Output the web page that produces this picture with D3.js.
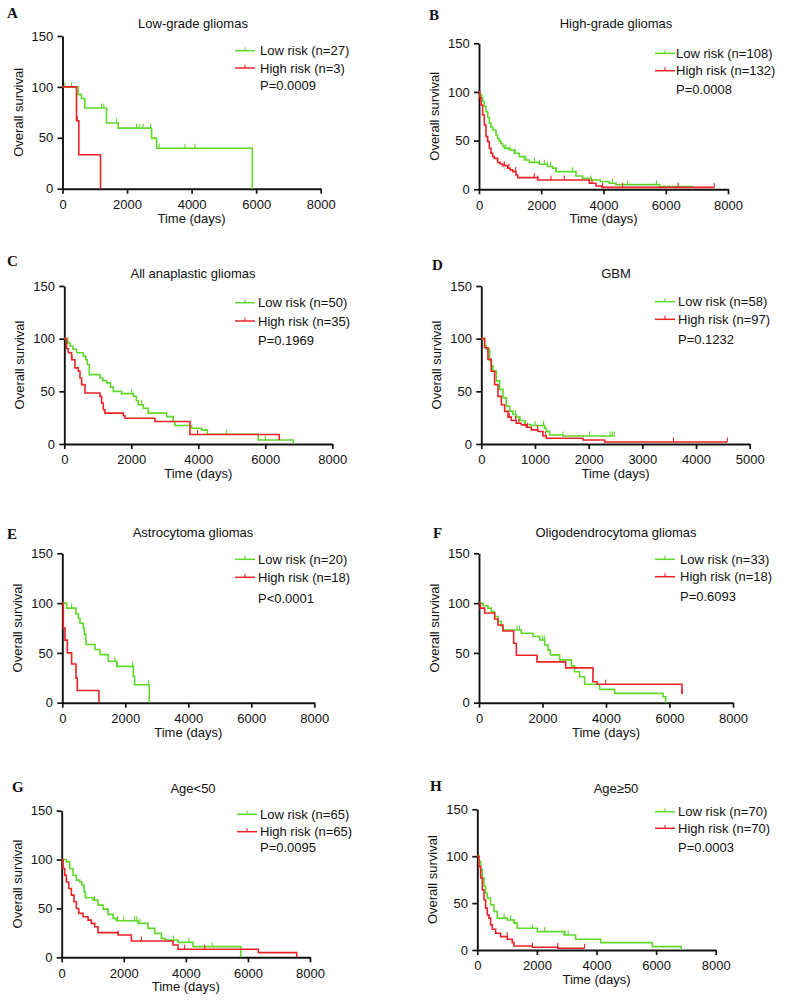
<!DOCTYPE html>
<html><head><meta charset="utf-8">
<script src="https://cdn.jsdelivr.net/npm/d3@7"></script>
<style>
body{margin:0;background:#fff}
text{font-family:"Liberation Sans",Arial,sans-serif;fill:#111}
</style>
</head><body>
<svg id="chart" width="786" height="1003"></svg>
<script>
// ---------- DATA ----------
const letters = ["A","B","C","D","E","F","G","H"];
const titles = ["Low-grade gliomas","High-grade gliomas","All anaplastic gliomas","GBM",
                "Astrocytoma gliomas","Oligodendrocytoma gliomas","Age<50","Age\u226550"];
const nLow  = [27,108,50,58,20,33,65,70];
const nHigh = [3,132,35,97,18,18,65,70];
const pTexts = ["P=0.0009","P=0.0008","P=0.1969","P=0.1232","P<0.0001","P=0.6093","P=0.0095","P=0.0003"];
const xMaxes = [8000,8000,8000,5000,8000,8000,8000,8000];
const xTicks8000 = [0,2000,4000,6000,8000];
const xTicks5000 = [0,1000,2000,3000,4000,5000];
const yTicks = [0,50,100,150];
const yLabel = "Overall survival";
const xLabel = "Time (days)";

// step curves: [time (days), survival (%) from that time on]
const lowA  = [[0,100],[486,92.4],[589,88.5],[692,79.3],[1364,64.5],[1726,59.5],[2760,49.7],[2915,39.8],[5881,0]];
const highA = [[0,100],[434,66.7],[506,33.3],[1178,0]];
const lowB  = [[0,100],[40,97],[80,94],[118,90],[170,85],[225,80],[280,74],[332,68],[385,64],[439,61],[546,55.8],[600,52],[650,49.5],[707,47],[760,44.5],[814,42],[974,40.4],[1135,37],[1296,33.6],[1456,30.1],[1617,27.7],[1938,25.7],[2200,23.5],[2366,21.6],[2473,18.2],[3116,13.7],[3330,11.3],[3597,9.6],[3900,8],[4186,6.2],[4400,4.8],[5800,2.8],[6880,2.8]];
const highB = [[0,100],[30,94],[64,86.6],[118,76.4],[171,66.1],[225,54.1],[278,49],[332,42.1],[385,37],[439,33.6],[492,31.8],[600,27.7],[680,26],[760,24.3],[921,21.6],[1000,20],[1081,18.2],[1188,14.7],[1242,12],[1885,9.6],[3544,6.2],[3758,3.4],[3950,2],[7560,2]];
const lowC  = [[0,100],[100,96],[169,93],[260,90],[368,86.6],[567,83.4],[640,80],[687,75.5],[746,65.9],[1065,62.7],[1150,60],[1264,58],[1380,54],[1463,50],[1711,47.8],[2060,45.2],[2150,41],[2209,37.3],[2358,34],[2507,29.3],[3055,26],[3254,21.3],[3303,17.5],[3800,15],[4100,13.4],[4270,9.2],[5790,3.8],[6836,0]];
const highC = [[0,100],[70,90.4],[119,86.6],[219,80],[318,72.3],[418,69],[468,62.7],[517,56.4],[617,48.4],[1065,45.2],[1114,38.9],[1164,32.5],[1214,29.3],[1761,26.8],[1811,24.5],[2706,21.3],[3751,9],[6418,3.8]];
const lowD  = [[0,100],[62,93.3],[93,90.1],[155,79],[186,74.2],[217,69.4],[280,59.9],[342,51.9],[404,43.9],[466,36],[528,31.2],[590,28],[652,25.5],[714,22.3],[807,18.5],[932,17.5],[1180,15],[1211,12],[1273,8.6],[1520,7.6],[2484,7.6]];
const highD = [[0,100],[62,91.4],[124,80.3],[186,69.1],[248,56.4],[311,45.2],[373,37.3],[435,31],[497,25.5],[559,22.3],[652,19.7],[745,18.2],[839,15.9],[932,13.4],[1056,11.8],[1149,7.6],[1211,5.4],[1894,3.8],[2298,1.9],[4584,1.9]];
const lowE  = [[0,100],[138,95],[434,89],[508,84.8],[561,79.7],[667,75],[698,68.6],[751,58.4],[1037,53.4],[1196,48.3],[1460,41.6],[1725,36.5],[2254,26.4],[2296,18],[2762,0]];
const highE = [[0,100],[32,75],[85,62.8],[159,50],[296,38.9],[434,24.7],[476,12.2],[1164,0]];
const lowF  = [[0,100],[126,97.3],[283,95],[388,91.6],[493,86.6],[598,81.5],[703,76.5],[756,73],[1333,69.8],[1700,66.4],[1911,63],[2068,58],[2173,53],[2247,48],[2540,43],[2908,37],[3013,31],[3170,26],[3328,18.5],[3800,13.4],[4273,9.4],[5795,6],[5880,0]];
const highF = [[0,100],[42,95],[178,90],[493,84],[598,78],[756,72],[1092,59.7],[1176,47.6],[1827,41],[2730,35],[3590,21],[3717,18.5],[6394,8.7]];
const lowG  = [[0,100],[150,97.6],[258,90.8],[365,84],[473,79],[580,77],[655,73.8],[720,67],[763,61],[1010,58.5],[1171,53.4],[1332,49.3],[1493,43.9],[1654,39.8],[1761,37.4],[2460,34.7],[2782,29.6],[2997,24.5],[3212,19.4],[3320,17.7],[3749,15.3],[4233,10.9],[5768,0]];
const highG = [[0,100],[43,90.8],[97,84],[150,77],[226,70.4],[311,63.6],[397,56.8],[473,50],[548,44.9],[688,41.5],[849,38],[956,34.7],[1063,31.3],[1171,25.2],[1815,22.8],[2245,16.7],[3588,12.6],[3749,8.2],[6337,4.8],[7573,0]];
const lowH  = [[0,100],[56,94.6],[112,85.7],[168,76.8],[224,67.9],[280,60.7],[336,55.4],[447,48.2],[559,41],[671,34],[1007,32],[1230,28.6],[1342,23.2],[2013,19.6],[2908,16],[3300,11.4],[4139,7.9],[5872,3.6],[6846,0]];
const highH = [[0,100],[56,89],[112,76.8],[168,64.3],[224,53.6],[280,44.6],[336,37.5],[391,34],[447,26.8],[503,22.1],[615,17.9],[783,14.3],[1007,11.4],[1174,7.9],[1230,4.3],[1846,2.9],[2707,1.8],[3602,1.8]];

// censor times
const censLowA  = [72,280,1210,1280,1675,2295,2377,2500,2730,2990,3793,4103];
const censHighA = [460];
const censLowB  = [867,1000,1167,1510,1780,1940,2098,2200,2300,2473,3008,3597,4290,4775,5700];
const censHighB = [814,960,1180,1777,1885,2313,2741,3630,3972,4615,6400,7560];
const censLowC  = [2010,2308,2507,3254,4846,6000];
const censHighC = [230,3980];
const censLowD  = [640,720,820,1000,1160,1520,2020,2400,2440,2475];
const censHighD = [520,640,700,860,1050,1200,3580,4584];
const censLowE  = [296,1672,1746,2233,2740];
const censHighE = [];
const censLowF  = [1200,1280,2000,2060];
const censHighF = [3990,6394];
const censLowG  = [1055,1800,2000,2350,2420,2520,3600,4100,4850];
const censHighG = [1815,2567,3963,4608];
const censLowH  = [900,1120,1250,1850,2260,2950,3050];
const censHighH = [1000,1850,2700,3602];

const lowCurves  = [lowA,lowB,lowC,lowD,lowE,lowF,lowG,lowH];
const highCurves = [highA,highB,highC,highD,highE,highF,highG,highH];
const lowCens  = [censLowA,censLowB,censLowC,censLowD,censLowE,censLowF,censLowG,censLowH];
const highCens = [censHighA,censHighB,censHighC,censHighD,censHighE,censHighF,censHighG,censHighH];

// ---------- LAYOUT ----------
const layouts = [
 {x0:62.5,x1:320.7,y0:188.7,y1:36,   lx:7,  ly:18,  tx:193,ty:28,  legL:235,legT:260,legY:[50.7,68,85]},
 {x0:479, x1:728,  y0:189.3,y1:43.3, lx:429,ly:20,  tx:616,ty:28,  legL:655,legT:676,legY:[53.3,70.7,89.3]},
 {x0:64.3,x1:332.3,y0:444,  y1:286,  lx:7,  ly:266, tx:193,ty:278, legL:235,legT:258,legY:[302.7,321,340.7]},
 {x0:481.3,x1:749.7,y0:444, y1:286,  lx:432,ly:270, tx:616,ty:278, legL:655,legT:678,legY:[301.7,319.3,339]},
 {x0:62.3,x1:314.3,y0:702.7,y1:553.3,lx:7,  ly:539, tx:193,ty:537, legL:235,legT:258,legY:[559.3,577.3,598.7]},
 {x0:479, x1:733,  y0:702.7,y1:553.3,lx:433,ly:538, tx:616,ty:537, legL:655,legT:680,legY:[559.3,576.7,596.7]},
 {x0:61.7,x1:310,  y0:957.3,y1:810.7,lx:12, ly:792, tx:193,ty:793, legL:237,legT:260,legY:[814.3,831.7,847.3]},
 {x0:477.3,x1:715.7,y0:950, y1:809.3,lx:430,ly:791, tx:616,ty:793, legL:655,legT:678,legY:[811.7,828.3,847.3]}
];
const GREEN = "#5fd82c", RED = "#ea2328";

const svg = d3.select("#chart");
svg.append("rect").attr("width",786).attr("height",1003).attr("fill","#fff");

function survAt(curve, t){
  let s = curve[0][1];
  for (const p of curve){ if (p[0] <= t) s = p[1]; else break; }
  return s;
}

letters.forEach((L,i)=>{
  const g = layouts[i];
  const x = d3.scaleLinear().domain([0,xMaxes[i]]).range([g.x0,g.x1]);
  const y = d3.scaleLinear().domain([0,150]).range([g.y0,g.y1]);
  const root = svg.append("g");

  root.append("text").attr("x",g.lx).attr("y",g.ly).text(L)
    .style("font-family","'Liberation Serif','Times New Roman',serif")
    .style("font-weight","bold").style("font-size","15px");
  root.append("text").attr("x",g.tx).attr("y",g.ty).attr("text-anchor","middle")
    .style("font-size","13px").text(titles[i]);

  const xa = root.append("g").attr("transform",`translate(0,${g.y0})`)
    .call(d3.axisBottom(x).tickValues(xMaxes[i]===5000?xTicks5000:xTicks8000).tickFormat(d3.format("d")).tickSize(5).tickSizeOuter(0));
  const ya = root.append("g").attr("transform",`translate(${g.x0},0)`)
    .call(d3.axisLeft(y).tickValues(yTicks).tickFormat(d3.format("d")).tickSize(5).tickSizeOuter(0));
  [xa,ya].forEach(a=>{
    a.select(".domain").attr("stroke","#111").attr("stroke-width",1.9);
    a.selectAll(".tick line").attr("stroke","#111").attr("stroke-width",1.7);
    a.selectAll(".tick text").style("font-size","13px").style("font-family","'Liberation Sans',Arial,sans-serif").attr("fill","#111");
  });
  xa.selectAll(".tick text").attr("dy","0.95em");
  ya.selectAll(".tick text").attr("dx","-0.1em");

  root.append("text").attr("x",(g.x0+g.x1)/2).attr("y",g.y0+34).attr("text-anchor","middle")
    .style("font-size","13px").text(xLabel);
  root.append("text").attr("transform",`translate(${g.x0-40},${(g.y0+g.y1)/2}) rotate(-90)`)
    .attr("text-anchor","middle").style("font-size","13px").text(yLabel);

  const line = d3.line().x(d=>x(d[0])).y(d=>y(d[1])).curve(d3.curveStepAfter);
  [[lowCurves[i],lowCens[i],GREEN],[highCurves[i],highCens[i],RED]].forEach(([c,cens,col])=>{
    root.append("path").datum(c).attr("d",line).attr("fill","none")
      .attr("stroke",col).attr("stroke-width",1.6);
    root.selectAll(null).data(cens).enter().append("line")
      .attr("x1",t=>x(t)).attr("x2",t=>x(t))
      .attr("y1",t=>y(survAt(c,t))).attr("y2",t=>y(survAt(c,t))-4.5)
      .attr("stroke",col).attr("stroke-width",1.1);
  });

  // legend
  const items = [[`Low risk (n=${nLow[i]})`,GREEN],[`High risk (n=${nHigh[i]})`,RED]];
  items.forEach(([lab,col],k)=>{
    const cy = g.legY[k];
    root.append("line").attr("x1",g.legL).attr("x2",g.legL+20).attr("y1",cy).attr("y2",cy)
      .attr("stroke",col).attr("stroke-width",1.5);
    root.append("line").attr("x1",g.legL+10).attr("x2",g.legL+10).attr("y1",cy).attr("y2",cy-3.5)
      .attr("stroke",col).attr("stroke-width",1.1);
    root.append("text").attr("x",g.legT).attr("y",cy).attr("dy","0.35em")
      .style("font-size","13px").text(lab);
  });
  root.append("text").attr("x",g.legT).attr("y",g.legY[2]).attr("dy","0.35em")
    .style("font-size","13px").text(pTexts[i]);
});
</script>
</body></html>
